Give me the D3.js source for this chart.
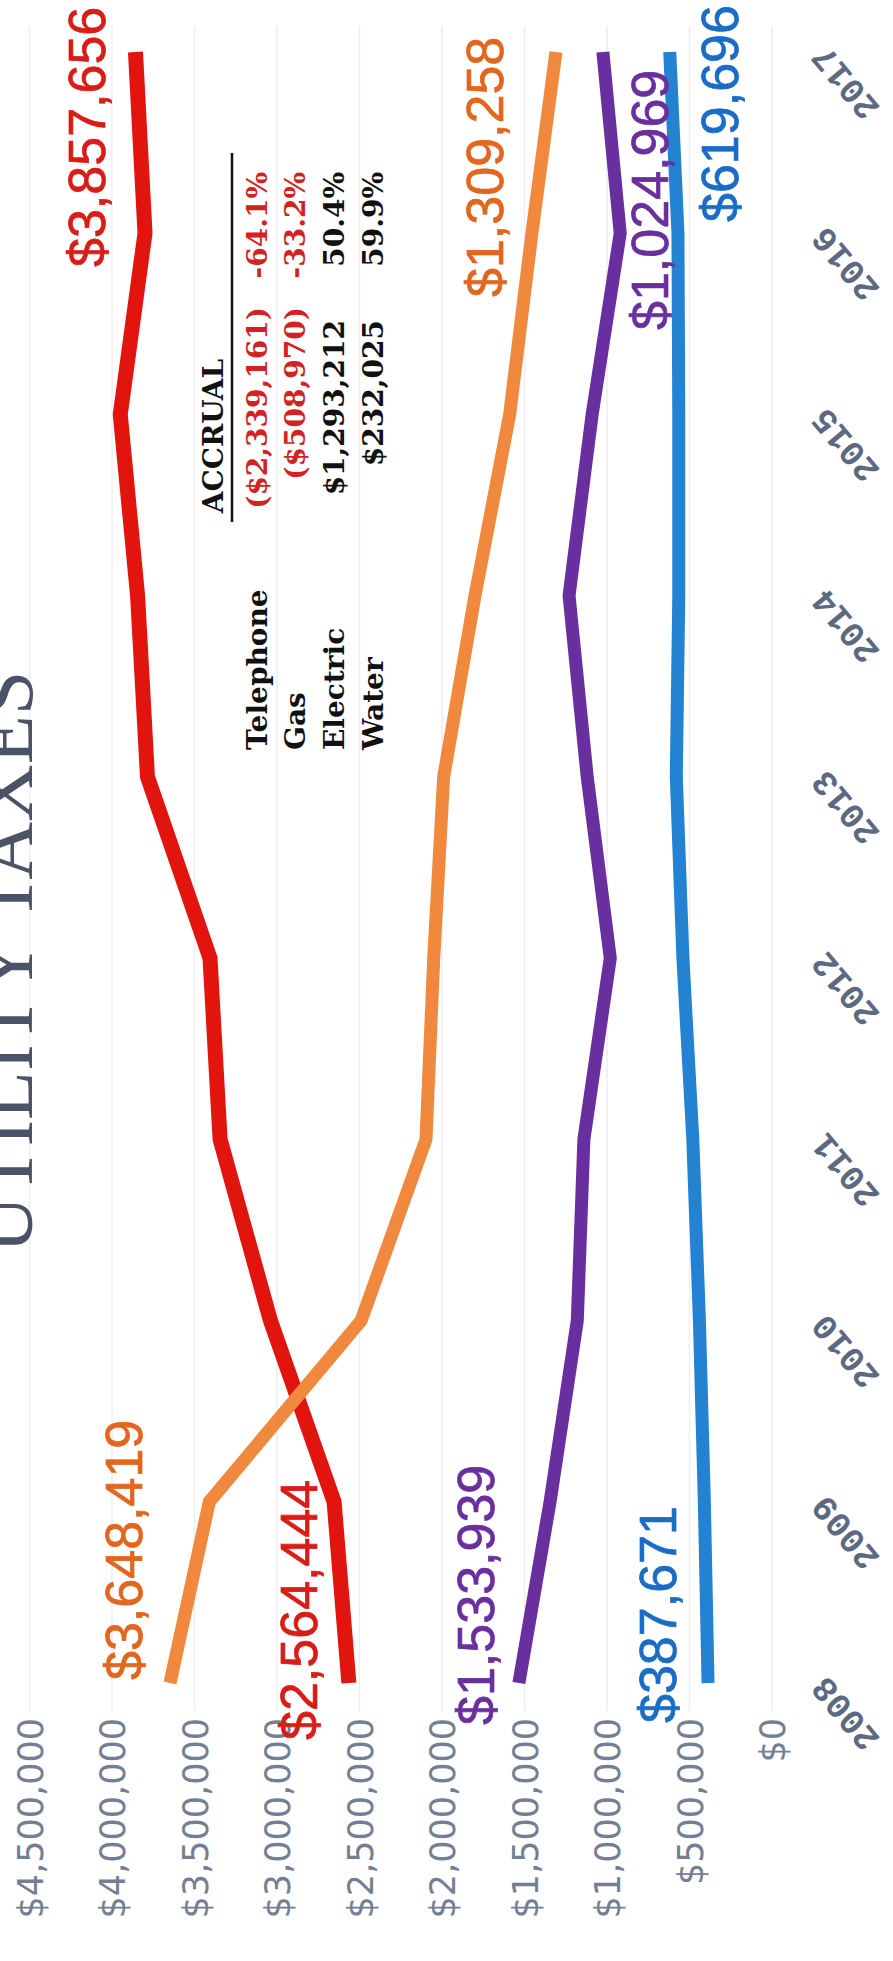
<!DOCTYPE html>
<html><head><meta charset="utf-8">
<script src="https://cdn.jsdelivr.net/npm/d3@7"></script>
<style>html,body{margin:0;padding:0;background:#fff;overflow:hidden}</style>
</head><body><svg id="c" width="893" height="1961"></svg>
<script>
const years = [2008, 2009, 2010, 2011, 2012, 2013, 2014, 2015, 2016, 2017];
const telephone = [3648419, 3410000, 2490000, 2097000, 2050000, 1990000, 1800000, 1590000, 1455000, 1309258];
const gas = [1533939, 1345000, 1180000, 1140000, 980000, 1120000, 1230000, 1090000, 920000, 1024969];
const electric = [2564444, 2654000, 3040000, 3345000, 3406000, 3785000, 3845000, 3950000, 3800000, 3857656];
const water = [387671, 410000, 440000, 480000, 540000, 580000, 565000, 565000, 570000, 619696];
const valueTicks = [0, 500000, 1000000, 1500000, 2000000, 2500000, 3000000, 3500000, 4000000, 4500000];
const accrualNames = ["Telephone", "Gas", "Electric", "Water"];
const accrualAmounts = [-2339161, -508970, 1293212, 232025];
const accrualPct = [-64.1, -33.2, 50.4, 59.9];
const title = "UTILITY TAXES";

const W = 1961, H = 893; // chart drawn in landscape, then rotated
const svg = d3.select("#c");
const g = svg.append("g").attr("transform", `translate(0,${W}) rotate(-90)`);

const x = d3.scalePoint().domain(years).range([278, 1909]);
const y = d3.scaleLinear().domain([0, 4500000]).range([772, 29.5]);

// gridlines
g.append("g").selectAll("line").data(valueTicks).join("line")
  .attr("x1", 250).attr("x2", 1935)
  .attr("y1", d => y(d)).attr("y2", d => y(d))
  .attr("stroke", "#ededf3").attr("stroke-width", 1.5);

// value axis
const ya = g.append("g").attr("transform", "translate(243,0)")
  .call(d3.axisLeft(y).tickValues(valueTicks).tickFormat(d3.format("$,")).tickSize(0).tickPadding(0));
ya.select(".domain").remove();
ya.selectAll("text").attr("font-family", "DejaVu Sans").attr("font-size", 35)
  .attr("fill", "#747f93").attr("dy", "0.36em");

// year axis
const xa = g.append("g").attr("transform", "translate(0,827)")
  .call(d3.axisBottom(x).tickSize(0).tickFormat(d3.format("d")));
xa.select(".domain").remove();
xa.selectAll("text").attr("font-family", "Liberation Mono").attr("font-weight", "bold")
  .attr("font-size", 35).attr("fill", "#5d6980")
  .attr("x", 0).attr("y", 0).attr("dy", 0)
  .attr("text-anchor", "end").attr("transform", "translate(8,0) rotate(-40)");

// title
g.append("text").text(title).attr("x", 999).attr("y", 32)
  .attr("text-anchor", "middle").attr("font-family", "Liberation Serif")
  .attr("font-size", 80).attr("fill", "#4a5466");

const series = [
  {name: "Electric", values: electric, color: "#e2150e", label: "#d91c16", w: 15,
   start: [-57, -50], end: [-215, -48]},
  {name: "Telephone", values: telephone, color: "#f0883e", label: "#e2661e", w: 13,
   start: [3, -46], end: [-245, -71]},
  {name: "Gas", values: gas, color: "#6a2f9f", label: "#6a2f9e", w: 13,
   start: [-42, -43], end: [-278, 47]},
  {name: "Water", values: water, color: "#2482d2", label: "#1a6cc6", w: 13,
   start: [-40, -50], end: [-170, 50]}
];

const line = d3.line().x((d, i) => x(years[i])).y(d => y(d));
g.append("g").selectAll("path").data(series).join("path")
  .attr("d", s => line(s.values)).attr("fill", "none")
  .attr("stroke", s => s.color).attr("stroke-width", s => s.w)
  .attr("stroke-linejoin", "miter").attr("stroke-linecap", "butt");

const fmt = d3.format("$,");
const lab = g.append("g").attr("font-family", "Liberation Sans").attr("font-size", 52);
series.forEach(s => {
  const n = s.values.length - 1;
  lab.append("text").text(fmt(s.values[0]))
    .attr("x", x(years[0]) + s.start[0]).attr("y", y(s.values[0]) + s.start[1])
    .attr("dominant-baseline", "central").attr("fill", s.label)
    .attr("stroke", s.label).attr("stroke-width", 0.7);
  lab.append("text").text(fmt(s.values[n]))
    .attr("x", x(years[n]) + s.end[0]).attr("y", y(s.values[n]) + s.end[1])
    .attr("dominant-baseline", "central").attr("fill", s.label)
    .attr("stroke", s.label).attr("stroke-width", 0.7);
});

// accrual table
const tb = g.append("g").attr("font-family", "DejaVu Serif").attr("font-weight", "bold").attr("font-size", 28);
const rowV = [257, 295, 334, 373];
tb.append("text").text("ACCRUAL").attr("x", 1525).attr("y", 213)
  .attr("text-anchor", "middle").attr("dominant-baseline", "central").attr("fill", "#111");
tb.append("line").attr("x1", 1439).attr("x2", 1808).attr("y1", 232).attr("y2", 232)
  .attr("stroke", "#111").attr("stroke-width", 2.5);
accrualNames.forEach((nm, i) => {
  const neg = accrualAmounts[i] < 0;
  const col = neg ? "#d42222" : "#111";
  tb.append("text").text(nm).attr("x", 1211).attr("y", rowV[i])
    .attr("dominant-baseline", "central").attr("fill", "#111");
  const amt = neg ? "(" + fmt(-accrualAmounts[i]) + ")" : fmt(accrualAmounts[i]);
  tb.append("text").text(amt).attr("x", neg ? 1654 : 1641).attr("y", rowV[i])
    .attr("text-anchor", "end").attr("dominant-baseline", "central").attr("fill", col);
  const pct = (accrualPct[i] < 0 ? "-" : "") + Math.abs(accrualPct[i]).toFixed(1) + "%";
  tb.append("text").text(pct).attr("x", 1789).attr("y", rowV[i])
    .attr("text-anchor", "end").attr("dominant-baseline", "central").attr("fill", col);
});
</script></body></html>
